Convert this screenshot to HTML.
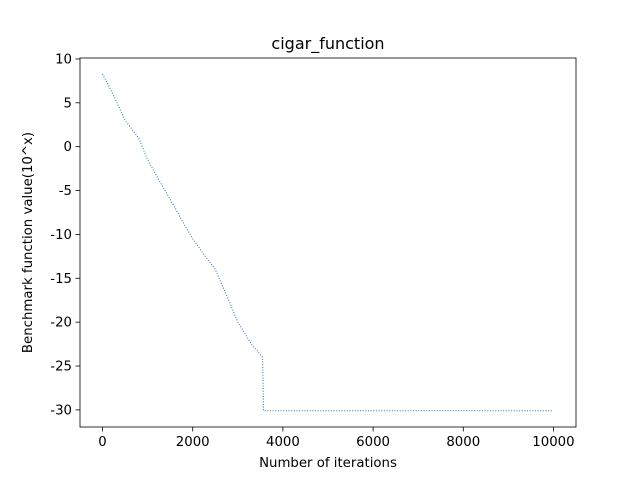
<!DOCTYPE html>
<html><head><meta charset="utf-8"><style>
body{margin:0;background:#fff;}
svg text{font-family:"DejaVu Sans","Liberation Sans",sans-serif;fill:#000;}
</style></head><body>
<svg id="chart" width="640" height="480" viewBox="0 0 640 480">
<rect width="640" height="480" fill="#fff"/>
<g id="plot"></g>
</svg>
<script>
const xs=[0,250,500,800,1000,1250,1500,1750,2000,2250,2500,2800,3000,3300,3550,3570,5000,7500,10000];
const ys=[8.3,5.8,3,1,-1.5,-3.8,-6,-8.3,-10.5,-12.3,-14,-17.5,-20,-22.5,-24,-30.1,-30.1,-30.1,-30.1];
const xTicks=[0,2000,4000,6000,8000,10000];
const yTicks=[10,5,0,-5,-10,-15,-20,-25,-30];
const L=80,R=576,T=58,B=427;
const xmin=-500,xmax=10500,ymin=-31.95,ymax=10.11;
const X=v=>L+(v-xmin)/(xmax-xmin)*(R-L);
const Y=v=>T+(ymax-v)/(ymax-ymin)*(B-T);
const NS="http://www.w3.org/2000/svg";
const g=document.getElementById('plot');
function mk(t,a){const e=document.createElementNS(NS,t);for(const k in a)e.setAttribute(k,a[k]);g.appendChild(e);return e;}
const line=mk('polyline',{points:xs.map((x,i)=>X(x)+','+Y(ys[i])).join(' '),fill:'none',stroke:'#1f77b4','stroke-width':1,'stroke-dasharray':'1,1.65'});


const fr=mk('rect',{x:L,y:T,width:R-L,height:B-T,fill:'none',stroke:'#000','stroke-width':0.8});


xTicks.forEach(v=>{
 mk('line',{x1:X(v),x2:X(v),y1:B,y2:B+4.5,stroke:'#000','stroke-width':0.8});
 const t=mk('text',{x:X(v),y:B+19,'text-anchor':'middle','font-size':13.3});t.textContent=v;
 
 
});
yTicks.forEach(v=>{
 mk('line',{x1:L-4.5,x2:L,y1:Y(v),y2:Y(v),stroke:'#000','stroke-width':0.8});
 const t=mk('text',{x:L-8,y:Y(v)+4.5,'text-anchor':'end','font-size':13.3});t.textContent=v;
 
 
});
let t=mk('text',{x:(L+R)/2,y:B+40,'text-anchor':'middle','font-size':13.3});t.textContent='Number of iterations';


t=mk('text',{x:0,y:0,'text-anchor':'middle','font-size':13.3,transform:`translate(32,${(T+B)/2}) rotate(-90)`});t.textContent='Benchmark function value(10^x)';


t=mk('text',{x:(L+R)/2,y:T-9,'text-anchor':'middle','font-size':16});t.textContent='cigar_function';


</script>
</body></html>
